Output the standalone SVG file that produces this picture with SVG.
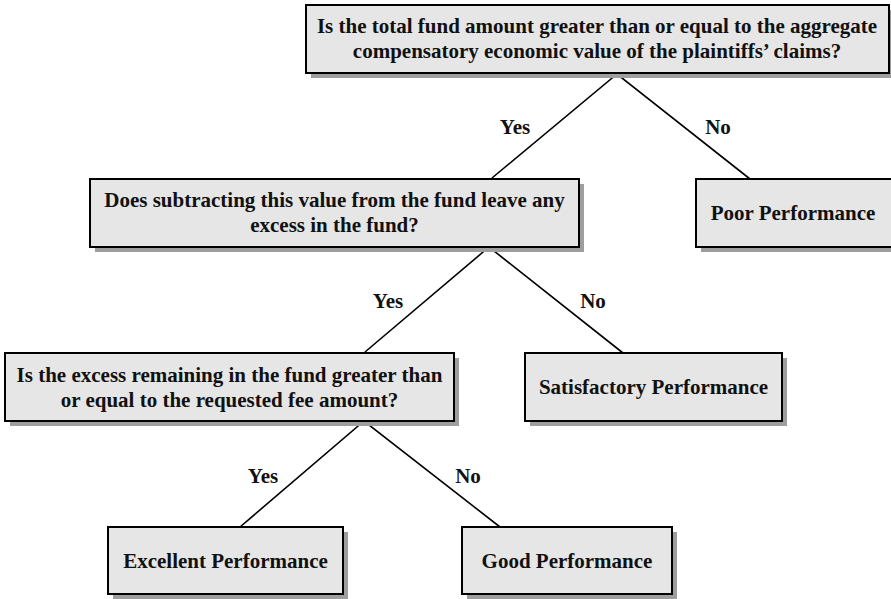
<svg xmlns="http://www.w3.org/2000/svg" width="891" height="599" viewBox="0 0 891 599">
<style>
.box{fill:#e6e6e6;stroke:#000;stroke-width:2}
.sh{fill:#9e9e9e}
.t{font-family:"Liberation Serif","Times New Roman",serif;font-weight:bold;font-size:21px;fill:#111;text-anchor:middle}
.c{stroke:#000;stroke-width:1.6;fill:none}
</style>
<rect width="891" height="599" fill="#fff"/>
<g id="connectors">
<polyline class="c" points="492,178 617,74 750,179"/>
<polyline class="c" points="365,352 489,247 623,353"/>
<polyline class="c" points="240,527 364,421 500,527"/>
<text class="t" x="515" y="134">Yes</text>
<text class="t" x="718" y="134">No</text>
<text class="t" x="388" y="308">Yes</text>
<text class="t" x="593" y="308">No</text>
<text class="t" x="263" y="483">Yes</text>
<text class="t" x="468" y="483">No</text>
</g>
<g id="q1">
<rect class="sh" x="311" y="10" width="583" height="68"/>
<rect class="box" x="306" y="5" width="583" height="68"/>
<text class="t" x="597" y="33">Is the total fund amount greater than or equal to the aggregate</text>
<text class="t" x="597" y="58">compensatory economic value of the plaintiffs’ claims?</text>
</g>
<g id="q2">
<rect class="sh" x="95" y="184" width="489" height="68"/>
<rect class="box" x="90" y="179" width="489" height="68"/>
<text class="t" x="334.5" y="207">Does subtracting this value from the fund leave any</text>
<text class="t" x="334.5" y="232">excess in the fund?</text>
</g>
<g id="poor">
<rect class="sh" x="701" y="184" width="200" height="68"/>
<rect class="box" x="696" y="179" width="200" height="68"/>
<text class="t" x="793" y="220">Poor Performance</text>
</g>
<g id="q3">
<rect class="sh" x="10" y="358" width="449" height="68"/>
<rect class="box" x="5" y="353" width="449" height="68"/>
<text class="t" x="229.5" y="382">Is the excess remaining in the fund greater than</text>
<text class="t" x="229.5" y="407">or equal to the requested fee amount?</text>
</g>
<g id="satisfactory">
<rect class="sh" x="530" y="358" width="257" height="68"/>
<rect class="box" x="525" y="353" width="257" height="68"/>
<text class="t" x="653.5" y="394">Satisfactory Performance</text>
</g>
<g id="excellent">
<rect class="sh" x="113" y="532" width="235" height="67"/>
<rect class="box" x="108" y="527" width="235" height="67"/>
<text class="t" x="225.5" y="568">Excellent Performance</text>
</g>
<g id="good">
<rect class="sh" x="467" y="532" width="210" height="67"/>
<rect class="box" x="462" y="527" width="210" height="67"/>
<text class="t" x="567" y="568">Good Performance</text>
</g>
</svg>
